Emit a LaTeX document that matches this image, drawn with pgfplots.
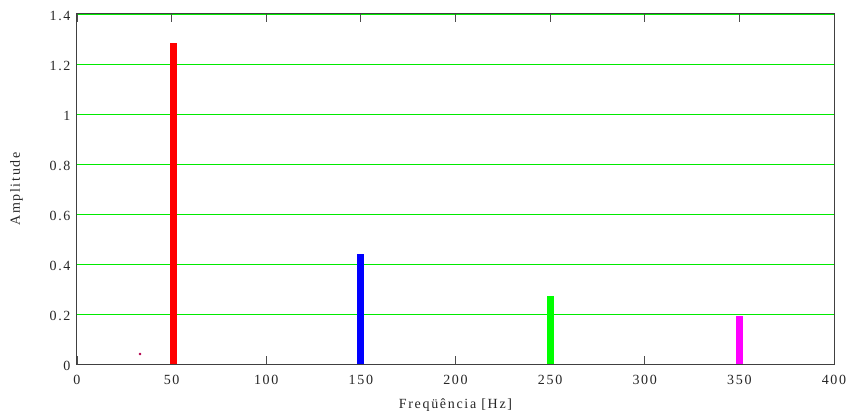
\documentclass[border=0pt]{standalone}
\usepackage{pgfplots}
\pgfplotsset{compat=1.18}
\usepackage{fontspec}
\setmainfont[LetterSpace=12]{Liberation Serif}
\definecolor{gg}{RGB}{0,235,0}
\definecolor{pg}{RGB}{0,255,0}
\definecolor{mg}{RGB}{255,0,255}
\begin{document}
\begin{tikzpicture}
\begin{axis}[
  scale only axis,
  width=757pt, height=350pt,
  xmin=0, xmax=400, ymin=0, ymax=1.4,
  xtick={0,50,...,400},
  ytick={0,0.2,...,1.4},
  yticklabels={0,0.2,0.4,0.6,0.8,1,1.2,1.4},
  tick align=inside,
  major tick length=8pt,
  xtick style={black!70, line width=0.8pt},
  ytick style={draw=none},
  ymajorgrids,
  grid style={gg, line width=0.8pt},
  axis line style={black!75, line width=1pt},
  tick label style={font=\fontsize{14}{16}\selectfont, black!85},
  /pgf/number format/assume math mode=true,
  xlabel={Freqüência [Hz]},
  ylabel={Amplitude},
  label style={font=\fontsize{14}{16}\selectfont, black!85},
  xlabel style={yshift=-7pt},
  ylabel style={yshift=20pt},
  xticklabel style={yshift=-8pt},
  yticklabel style={xshift=-3pt, yshift=-2pt},
  clip=false,
]
\addplot[ycomb, red, line width=7pt, no marks] coordinates {(51,1.284)};
\addplot[ycomb, blue, line width=7pt, no marks] coordinates {(150,0.44)};
\addplot[ycomb, pg, line width=7pt, no marks] coordinates {(250,0.272)};
\addplot[ycomb, mg, line width=7pt, no marks] coordinates {(350,0.193)};
\addplot[only marks, mark=*, mark size=1pt, red!70!blue] coordinates {(33.3,0.04)};
\path (rel axis cs:0,0) ++(-77pt,-52pt) coordinate (bl);
\path (rel axis cs:1,1) ++(19pt,14pt) coordinate (tr);
\end{axis}
\useasboundingbox (bl) rectangle (tr);
\end{tikzpicture}
\end{document}
